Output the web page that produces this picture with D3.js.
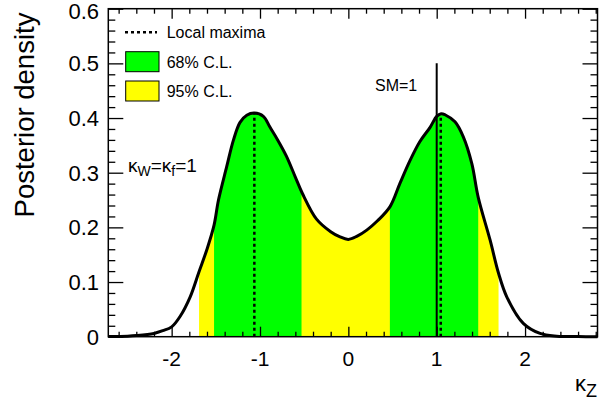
<!DOCTYPE html>
<html>
<head>
<meta charset="utf-8">
<script src="https://cdn.jsdelivr.net/npm/d3@7"></script>
<style>
  html, body { margin: 0; padding: 0; background: #fff; }
  svg text { font-family: "Liberation Sans", Arial, Helvetica, sans-serif; fill: #000; }
</style>
</head>
<body>
<svg id="chart" width="613" height="402"></svg>
<script>
// ---- data ----
const kappaZ = [-2.717, -2.5, -2.4, -2.2, -2.1, -2.0, -1.905, -1.79, -1.69, -1.60, -1.52, -1.47, -1.377, -1.30, -1.226, -1.15, -1.064, -0.962, -0.886, -0.80, -0.70, -0.60, -0.52, -0.36, -0.20, -0.10, 0.0, 0.1, 0.208, 0.33, 0.472, 0.585, 0.70, 0.81, 0.925, 1.0, 1.05, 1.094, 1.207, 1.30, 1.397, 1.47, 1.604, 1.70, 1.793, 1.98, 2.17, 2.36, 2.6, 2.82];
const density = [0.0002, 0.001, 0.002, 0.006, 0.011, 0.018, 0.037, 0.073, 0.119, 0.160, 0.204, 0.250, 0.311, 0.360, 0.392, 0.405, 0.409, 0.403, 0.383, 0.360, 0.330, 0.292, 0.262, 0.215, 0.192, 0.183, 0.178, 0.184, 0.195, 0.212, 0.238, 0.281, 0.323, 0.357, 0.383, 0.403, 0.408, 0.406, 0.393, 0.366, 0.317, 0.255, 0.177, 0.116, 0.073, 0.0245, 0.006, 0.001, 0.0002, 0.0];
const band95 = [[-1.69, 1.70]];
const band68 = [[-1.52, -0.53], [0.47, 1.47]];
const localMaxima = [-1.064, 1.046];
const smValue = 1;
const smTop = 0.5;
const xTicks = [-2, -1, 0, 1, 2];
const xTickLabels = ["-2", "-1", "0", "1", "2"];
const yTicks = [0, 0.1, 0.2, 0.3, 0.4, 0.5, 0.6];
const yTickLabels = ["0", "0.1", "0.2", "0.3", "0.4", "0.5", "0.6"];
const legendLabels = ["Local maxima", "68% C.L.", "95% C.L."];

// ---- layout ----
const L = 108.3, R = 597.5, T = 8.7, B = 336.7;
const x = d3.scaleLinear().domain([-2.717, 2.82]).range([L, R]);
const y = d3.scaleLinear().domain([0, 0.6]).range([B, T]);
const GREEN = "#00ff00", YELLOW = "#ffff00";

const svg = d3.select("#chart");
const pts = kappaZ.map((k, i) => ({k, d: density[i]}));
const densAt = k => {
  for (let i = 1; i < pts.length; i++) {
    if (pts[i].k >= k) {
      const a = pts[i-1], b = pts[i];
      const t = (k - a.k) / (b.k - a.k);
      return a.d + t * (b.d - a.d);
    }
  }
  return 0;
};

const defs = svg.append("defs");
function clipFor(id, bands) {
  const cp = defs.append("clipPath").attr("id", id);
  bands.forEach(b => cp.append("rect")
    .attr("x", x(b[0])).attr("width", x(b[1]) - x(b[0]))
    .attr("y", T).attr("height", B - T));
}
clipFor("c95", band95);
clipFor("c68", band68);

const crv = d3.curveCatmullRom.alpha(0.5);
const area = d3.area().x(p => x(p.k)).y0(y(0)).y1(p => y(p.d)).curve(crv);
const line = d3.line().x(p => x(p.k)).y(p => y(p.d)).curve(crv);

svg.append("path").datum(pts).attr("d", area).attr("fill", YELLOW).attr("clip-path", "url(#c95)");
svg.append("path").datum(pts).attr("d", area).attr("fill", GREEN).attr("clip-path", "url(#c68)");

// local maxima dotted lines
svg.selectAll("line.lmax").data(localMaxima).enter().append("line")
  .attr("class", "lmax")
  .attr("x1", d => x(d)).attr("x2", d => x(d))
  .attr("y1", y(0)).attr("y2", d => y(densAt(d)))
  .attr("stroke", "#000").attr("stroke-width", 2.5).attr("stroke-dasharray", "3,3");

// curve
svg.append("path").datum(pts).attr("d", line).attr("fill", "none")
  .attr("stroke", "#000").attr("stroke-width", 3).attr("stroke-linejoin", "round");

// SM line
svg.append("line")
  .attr("x1", x(smValue)).attr("x2", x(smValue))
  .attr("y1", y(0)).attr("y2", y(smTop))
  .attr("stroke", "#000").attr("stroke-width", 2);

// frame
svg.append("rect").attr("x", L).attr("y", T).attr("width", R - L).attr("height", B - T)
  .attr("fill", "none").attr("stroke", "#000").attr("stroke-width", 1.5);

// ticks via d3 axes
const xMinor = d3.range(-2.6, 2.81, 0.2).map(v => Math.round(v * 10) / 10).filter(v => !xTicks.includes(v));
const yMinor = d3.range(0, 0.601, 0.02).map(v => Math.round(v * 100) / 100).filter(v => !yTicks.some(t => Math.abs(t - v) < 1e-9));

function styleAxis(g) {
  g.select(".domain").remove();
  g.selectAll("line").attr("stroke", "#000").attr("stroke-width", 1.3);
}
// bottom
svg.append("g").attr("transform", `translate(0,${B})`)
  .call(d3.axisTop(x).tickValues(xTicks).tickSize(10).tickFormat(""))
  .call(styleAxis);
svg.append("g").attr("transform", `translate(0,${B})`)
  .call(d3.axisTop(x).tickValues(xMinor).tickSize(5).tickFormat(""))
  .call(styleAxis);
// top
svg.append("g").attr("transform", `translate(0,${T})`)
  .call(d3.axisBottom(x).tickValues(xTicks).tickSize(10).tickFormat(""))
  .call(styleAxis);
svg.append("g").attr("transform", `translate(0,${T})`)
  .call(d3.axisBottom(x).tickValues(xMinor).tickSize(5).tickFormat(""))
  .call(styleAxis);
// left
svg.append("g").attr("transform", `translate(${L},0)`)
  .call(d3.axisRight(y).tickValues(yTicks).tickSize(15).tickFormat(""))
  .call(styleAxis);
svg.append("g").attr("transform", `translate(${L},0)`)
  .call(d3.axisRight(y).tickValues(yMinor).tickSize(7).tickFormat(""))
  .call(styleAxis);
// right
svg.append("g").attr("transform", `translate(${R},0)`)
  .call(d3.axisLeft(y).tickValues(yTicks).tickSize(15).tickFormat(""))
  .call(styleAxis);
svg.append("g").attr("transform", `translate(${R},0)`)
  .call(d3.axisLeft(y).tickValues(yMinor).tickSize(7).tickFormat(""))
  .call(styleAxis);

// tick labels
svg.selectAll("text.xl").data(xTicks).enter().append("text")
  .attr("class", "xl").attr("x", d => x(d)).attr("y", 366)
  .attr("text-anchor", "middle").attr("font-size", 21)
  .text((d, i) => xTickLabels[i]);
svg.selectAll("text.yl").data(yTicks).enter().append("text")
  .attr("class", "yl").attr("x", 99).attr("y", d => Math.max(y(d) + 8, 18.5))
  .attr("text-anchor", "end").attr("font-size", 22)
  .text((d, i) => yTickLabels[i]);

// axis titles
svg.append("text").attr("transform", "translate(34,115) rotate(-90)")
  .attr("text-anchor", "middle").attr("font-size", 27.5).text("Posterior density");
const xt = svg.append("text").attr("x", 597).attr("y", 391).attr("text-anchor", "end").attr("font-size", 22);
xt.append("tspan").text("κ");
xt.append("tspan").attr("dy", 6).attr("font-size", 18).text("Z");

// legend
svg.append("line").attr("x1", 125).attr("x2", 157).attr("y1", 32.3).attr("y2", 32.3)
  .attr("stroke", "#000").attr("stroke-width", 2.5).attr("stroke-dasharray", "3,3");
svg.append("rect").attr("x", 125.7).attr("y", 51.7).attr("width", 33.3).attr("height", 20)
  .attr("fill", GREEN).attr("stroke", "#000").attr("stroke-width", 1);
svg.append("rect").attr("x", 125.7).attr("y", 81).attr("width", 33.3).attr("height", 20)
  .attr("fill", YELLOW).attr("stroke", "#000").attr("stroke-width", 1);
[38, 67.5, 96.5].forEach((by, i) => {
  svg.append("text").attr("x", 166.7).attr("y", by).attr("font-size", 16).text(legendLabels[i]);
});

// annotations
svg.append("text").attr("x", 375).attr("y", 90.7).attr("font-size", 16).text("SM=1");
const kw = svg.append("text").attr("x", 128).attr("y", 171.7).attr("font-size", 19);
kw.append("tspan").text("κ");
kw.append("tspan").attr("dy", 4).attr("font-size", 14).text("W");
kw.append("tspan").attr("dy", -4).text("=κ");
kw.append("tspan").attr("dy", 4).attr("font-size", 14).text("f");
kw.append("tspan").attr("dy", -4).text("=1");
</script>
</body>
</html>
